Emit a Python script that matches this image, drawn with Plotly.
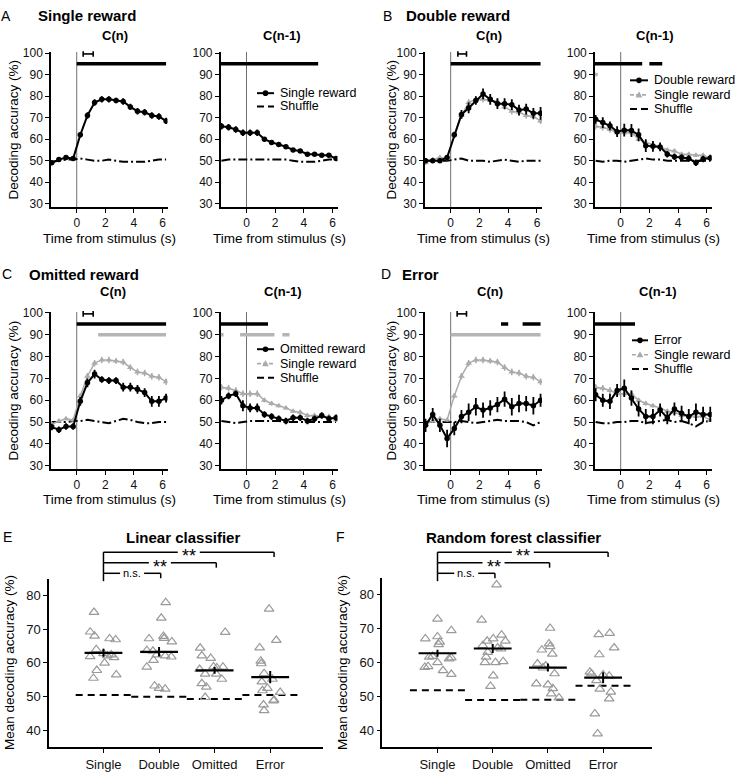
import plotly.graph_objects as go

W, H = 735, 776
FONT = "Liberation Sans, Arial, Helvetica, sans-serif"

# ---------------- data: time courses ----------------
times = [-1.75, -1.25, -0.75, -0.25, 0.25, 0.75, 1.25, 1.75, 2.25, 2.75,
         3.25, 3.75, 4.25, 4.75, 5.25, 5.75, 6.25]

single_cn = [49.0, 50.5, 51.5, 51.0, 62.0, 71.0, 77.0, 78.5, 78.5, 78.0, 77.5, 75.0, 73.0, 72.5, 71.0, 70.5, 68.5]
single_cn_err = [1.0, 0.8, 0.8, 0.8, 1.2, 1.5, 1.5, 1.5, 1.5, 1.3, 1.5, 1.5, 1.5, 1.5, 1.5, 1.5, 1.5]
single_cn1 = [66.0, 65.5, 64.5, 63.0, 63.0, 63.0, 60.0, 58.5, 57.5, 56.5, 55.0, 54.5, 53.0, 53.0, 52.5, 52.5, 51.0]
single_cn1_err = [1.5, 1.5, 1.5, 1.5, 1.5, 1.5, 1.0, 1.0, 0.8, 0.8, 0.8, 0.8, 0.8, 0.8, 0.8, 0.8, 0.8]

double_cn = [50.0, 50.0, 50.0, 51.5, 62.0, 71.5, 74.5, 78.0, 81.0, 78.5, 76.5, 76.5, 76.0, 73.5, 74.0, 72.0, 72.0]
double_cn_err = [1.0, 1.0, 1.0, 1.0, 1.5, 2.0, 2.5, 2.0, 2.5, 2.5, 2.5, 2.5, 2.5, 2.5, 2.5, 2.5, 3.0]
double_cn1 = [69.2, 67.7, 66.2, 63.5, 64.2, 64.0, 62.0, 57.0, 56.7, 56.4, 53.0, 51.8, 51.5, 51.0, 49.0, 50.8, 51.3]
double_cn1_err = [2.0, 2.5, 2.0, 2.5, 3.0, 3.0, 3.0, 3.0, 2.5, 2.0, 1.5, 1.5, 1.5, 1.5, 1.5, 1.5, 1.5]

omitted_cn = [47.7, 46.5, 48.0, 48.0, 59.5, 68.0, 72.0, 69.5, 69.0, 69.0, 66.0, 66.0, 65.0, 63.5, 59.5, 59.5, 61.0]
omitted_cn_err = [1.5, 1.5, 1.5, 1.5, 2.0, 2.0, 2.0, 1.5, 1.5, 1.5, 2.0, 2.0, 2.0, 2.0, 2.5, 2.5, 2.0]
omitted_cn1 = [60.0, 62.0, 63.0, 57.5, 56.5, 56.5, 53.5, 52.5, 51.5, 50.5, 52.0, 52.0, 50.5, 51.5, 53.0, 51.5, 52.0]
omitted_cn1_err = [2.0, 1.5, 1.5, 2.5, 2.0, 2.0, 1.5, 1.5, 1.5, 1.5, 1.5, 1.5, 1.5, 1.5, 1.5, 1.5, 1.5]

error_cn = [48.5, 53.5, 48.5, 42.5, 47.0, 52.5, 54.5, 57.0, 55.5, 56.5, 58.0, 60.5, 57.0, 58.5, 58.5, 57.5, 60.0]
error_cn_err = [3.0, 3.0, 3.0, 4.0, 3.0, 3.0, 4.0, 4.0, 3.5, 3.5, 3.5, 3.5, 4.0, 4.0, 3.5, 4.0, 3.0]
error_cn1 = [62.5, 60.0, 59.5, 64.5, 65.5, 61.0, 56.0, 52.5, 52.5, 55.5, 52.0, 56.0, 54.0, 52.5, 54.5, 53.5, 53.5]
error_cn1_err = [3.0, 3.0, 3.5, 3.0, 4.0, 3.5, 3.5, 3.5, 3.5, 3.0, 3.0, 3.0, 3.5, 3.5, 4.0, 3.5, 3.5]

shuf_A_cn = [49.5, 50.0, 50.5, 50.5, 51.0, 50.5, 50.0, 50.0, 50.5, 50.0, 49.5, 49.5, 49.5, 49.5, 50.0, 50.5, 50.5]
shuf_A_cn1 = [50.0, 50.5, 50.5, 50.5, 50.5, 50.5, 50.5, 50.5, 50.8, 50.5, 50.0, 49.5, 49.5, 49.5, 50.0, 50.5, 50.5]
shuf_B_cn = [50.0, 50.0, 50.0, 50.0, 50.5, 51.0, 50.0, 50.0, 50.0, 49.5, 50.0, 50.5, 50.0, 49.5, 50.0, 50.0, 50.0]
shuf_B_cn1 = [50.0, 49.5, 50.0, 50.0, 49.5, 50.0, 50.5, 51.0, 50.5, 50.5, 50.0, 50.0, 50.0, 50.0, 50.0, 50.0, 50.0]
shuf_C_cn = [50.0, 50.0, 50.0, 50.5, 50.5, 51.0, 50.5, 50.0, 49.5, 50.5, 51.5, 51.0, 50.0, 49.5, 49.5, 50.0, 50.0]
shuf_C_cn1 = [50.5, 50.0, 49.5, 50.0, 50.5, 50.5, 50.5, 50.5, 50.5, 50.0, 50.0, 50.0, 50.0, 50.0, 50.0, 50.0, 50.0]
shuf_D_cn = [50.0, 50.0, 50.0, 50.0, 50.0, 50.5, 50.0, 49.5, 50.0, 50.5, 51.0, 50.5, 50.5, 50.5, 50.0, 48.5, 50.0]
shuf_D_cn1 = [50.0, 49.5, 49.5, 50.0, 50.0, 50.5, 50.5, 49.5, 50.0, 50.5, 51.0, 50.0, 50.5, 49.5, 48.0, 50.0, 50.5]

# significance segments (start, end) at the black (95 %) and gray (90 %) levels
sig_black_A_cn = [(0.0, 6.25)]
sig_black_A_cn1 = [(-1.8, 5.0)]
sig_black_B_cn = [(0.0, 6.25)]
sig_black_B_cn1 = [(-1.8, 1.5), (2.0, 2.9)]
sig_gray_B_cn1 = [(-1.8, -1.6)]
sig_black_C_cn = [(0.0, 6.25)]
sig_gray_C_cn = [(1.5, 6.25)]
sig_black_C_cn1 = [(-1.8, 1.5)]
sig_gray_C_cn1 = [(-1.8, -1.6), (-0.45, 1.95), (2.5, 3.0)]
sig_black_D_cn = [(3.5, 4.0), (5.0, 6.25)]
sig_gray_D_cn = [(0.0, 6.25)]
sig_black_D_cn1 = [(-1.8, 1.0)]
sig_levels = [95, 90]

# latency interval markers (|-| near top) in the C(n) panels
latency_A = [0.45, 1.15]
latency_B = [0.5, 1.1]
latency_C = [0.45, 1.15]
latency_D = [0.45, 1.1]
latency_level = 99.6

# ---------------- data: mean decoding accuracy ----------------
categories = ["Single", "Double", "Omitted", "Error"]

single_lin = [75.0, 69.2, 68.0, 64.0, 67.2, 66.9, 61.9, 57.8, 55.5, 60.0, 62.4, 61.6, 62.1, 56.5, 62.8]
single_lin_off = [-0.17, -0.24, -0.16, -0.13, 0.11, 0.22, -0.24, -0.12, -0.18, 0.02, 0.14, 0.19, 0.07, 0.23, 0.0]
double_lin = [77.9, 73.3, 67.2, 67.9, 67.3, 66.3, 63.7, 60.8, 58.8, 62.4, 62.1, 61.8, 53.2, 52.5, 52.3, 63.5]
double_lin_off = [0.12, 0.04, -0.18, 0.08, 0.09, 0.23, -0.22, -0.10, -0.22, -0.04, 0.11, 0.22, -0.08, 0.0, 0.11, -0.11]
omitted_lin = [69.1, 64.4, 62.1, 61.4, 58.1, 56.7, 58.9, 58.8, 56.7, 55.2, 53.9, 52.9, 49.8, 58.6]
omitted_lin_off = [0.19, -0.26, -0.23, -0.07, -0.27, -0.17, -0.02, 0.15, 0.03, 0.13, -0.23, -0.15, -0.17, 0.04]
error_lin = [76.0, 66.7, 64.5, 60.6, 59.8, 56.9, 55.2, 54.4, 52.5, 51.8, 51.3, 49.0, 48.8, 47.6, 45.9]
error_lin_off = [-0.02, 0.11, -0.19, -0.17, -0.16, -0.11, 0.04, -0.15, -0.05, -0.14, 0.18, 0.07, 0.06, -0.12, -0.11]
mean_lin = [63.0, 63.3, 57.8, 55.8]
sem_lin = [1.2, 1.4, 1.0, 1.8]
shuffle_lin = [50.5, 50.0, 49.3, 50.5]

single_rf = [72.8, 69.4, 67.0, 67.6, 65.3, 61.6, 61.8, 60.0, 61.4, 61.1, 58.6, 58.8, 57.6, 56.5, 66.0]
single_rf_off = [0.0, 0.25, -0.22, 0.0, 0.02, -0.15, -0.09, 0.0, 0.25, 0.21, -0.23, -0.17, 0.1, 0.25, 0.04]
double_rf = [82.9, 72.5, 68.1, 66.3, 67.0, 66.3, 65.0, 64.3, 64.0, 63.0, 61.6, 60.0, 60.0, 60.3, 56.1, 53.0]
double_rf_off = [0.07, -0.2, 0.16, 0.23, 0.01, -0.1, -0.18, 0.09, 0.15, -0.09, -0.12, -0.14, 0.05, 0.19, 0.01, -0.04]
omitted_rf = [70.1, 65.5, 64.7, 63.7, 62.5, 59.6, 58.4, 59.0, 56.7, 53.7, 53.4, 52.3, 50.8, 49.6]
omitted_rf_off = [0.04, 0.02, 0.04, -0.11, 0.08, -0.19, -0.09, -0.04, 0.12, -0.21, 0.0, 0.09, 0.06, 0.2]
error_rf = [68.6, 68.2, 64.3, 62.3, 57.2, 56.7, 56.4, 54.7, 52.2, 51.3, 49.3, 44.9, 39.0, 56.0]
error_rf_off = [0.12, -0.08, 0.2, -0.07, -0.24, -0.21, 0.0, -0.12, -0.06, 0.14, 0.11, -0.15, -0.1, 0.11]
mean_rf = [62.7, 64.1, 58.5, 55.5]
sem_rf = [1.0, 1.3, 1.2, 1.6]
shuffle_rf = [51.8, 48.9, 49.0, 53.1]

# comparisons: (from category, to category, label)
comparisons = [(0, 3, "**"), (0, 2, "**"), (0, 1, "n.s.")]

# ---------------- layout helpers ----------------
def px(x):
    return x / W


def py(y):
    return 1 - y / H


def aid(k):
    return "" if k == 1 else str(k)


fig = go.Figure()
shapes = []
annotations = []

BLACK = "black"
GRAY = "#ababab"
TRI = "#9a9a9a"
SHUF_DASH = "9px,3px,2px,3px"

T_RANGE = [-1.8, 6.35]
Y_RANGE = [28.5, 100.5]


def text(x, y, s, size=13, bold=False, xanchor="center", yanchor="middle",
         angle=0, yshift=0, color="black"):
    annotations.append(dict(
        x=px(x), y=py(y), xref="paper", yref="paper",
        text=f"<b>{s}</b>" if bold else s, showarrow=False,
        font=dict(family=FONT, size=size, color=color),
        xanchor=xanchor, yanchor=yanchor, textangle=angle,
        borderpad=0, yshift=yshift))


axis_common = dict(showline=True, linecolor="black", linewidth=1.5,
                   ticks="outside", ticklen=4, tickwidth=1.3, tickcolor="black",
                   showgrid=False, zeroline=False,
                   tickfont=dict(family=FONT, size=12, color="#111"))


def time_panel(k, box, black, black_err, shuffle, gray=None, gray_err=None,
               sig_black=(), sig_gray=(), latency=None):
    x0, x1, y0, y1 = box
    xa, ya = "x" + aid(k), "y" + aid(k)
    fig.update_layout(**{
        "xaxis" + aid(k): dict(axis_common, domain=[px(x0), px(x1)], range=T_RANGE,
                               tickvals=[0, 2, 4, 6], anchor=ya),
        "yaxis" + aid(k): dict(axis_common, domain=[py(y1), py(y0)], range=Y_RANGE,
                               tickvals=[30, 40, 50, 60, 70, 80, 90, 100], anchor=xa),
    })
    shapes.append(dict(type="line", xref=xa, yref=ya + " domain", x0=0, x1=0,
                       y0=0, y1=1, line=dict(color="#707070", width=1), layer="below"))
    fig.add_trace(go.Scatter(x=times, y=shuffle, mode="lines", xaxis=xa, yaxis=ya,
                             line=dict(color=BLACK, width=2, dash=SHUF_DASH),
                             showlegend=False, hoverinfo="skip"))
    if gray is not None:
        fig.add_trace(go.Scatter(x=times, y=gray, mode="lines+markers", xaxis=xa, yaxis=ya,
                                 line=dict(color=GRAY, width=1.5),
                                 marker=dict(symbol="triangle-up", size=6, color=GRAY),
                                 error_y=dict(type="data", array=gray_err, color=GRAY,
                                              thickness=1.5, width=0),
                                 showlegend=False))
    fig.add_trace(go.Scatter(x=times, y=black, mode="lines+markers", xaxis=xa, yaxis=ya,
                             line=dict(color=BLACK, width=2),
                             marker=dict(symbol="circle", size=5.5, color=BLACK),
                             error_y=dict(type="data", array=black_err, color=BLACK,
                                          thickness=1.8, width=0),
                             showlegend=False))
    for a, b in sig_black:
        shapes.append(dict(type="line", xref=xa, yref=ya, x0=a, x1=b,
                           y0=sig_levels[0], y1=sig_levels[0],
                           line=dict(color=BLACK, width=3.5)))
    for a, b in sig_gray:
        shapes.append(dict(type="line", xref=xa, yref=ya, x0=a, x1=b,
                           y0=sig_levels[1], y1=sig_levels[1],
                           line=dict(color="#b5b5b5", width=3.5)))
    if latency is not None:
        def xd(t):
            return (t - T_RANGE[0]) / (T_RANGE[1] - T_RANGE[0])

        def yd(v):
            return (v - Y_RANGE[0]) / (Y_RANGE[1] - Y_RANGE[0])
        a, b = latency
        ref = dict(xref=xa + " domain", yref=ya + " domain")
        lw = dict(color=BLACK, width=1.6)
        shapes.append(dict(type="line", **ref, x0=xd(a), x1=xd(b), y0=yd(latency_level),
                           y1=yd(latency_level), line=lw))
        for t in (a, b):
            shapes.append(dict(type="line", **ref, x0=xd(t), x1=xd(t),
                               y0=yd(latency_level - 1.3), y1=yd(latency_level + 1.3), line=lw))


ROW1 = (46.6, 203.6)
ROW2 = (309.9, 469.0)
COLX = [(51.0, 167.5), (220.7, 337.5), (424.8, 542.0), (594.9, 711.7)]

time_panel(1, (*COLX[0], *ROW1), single_cn, single_cn_err, shuf_A_cn,
           sig_black=sig_black_A_cn, latency=latency_A)
time_panel(2, (*COLX[1], *ROW1), single_cn1, single_cn1_err, shuf_A_cn1,
           sig_black=sig_black_A_cn1)
time_panel(3, (*COLX[2], *ROW1), double_cn, double_cn_err, shuf_B_cn,
           gray=single_cn, gray_err=single_cn_err,
           sig_black=sig_black_B_cn, latency=latency_B)
time_panel(4, (*COLX[3], *ROW1), double_cn1, double_cn1_err, shuf_B_cn1,
           gray=single_cn1, gray_err=single_cn1_err,
           sig_black=sig_black_B_cn1, sig_gray=sig_gray_B_cn1)
time_panel(5, (*COLX[0], *ROW2), omitted_cn, omitted_cn_err, shuf_C_cn,
           gray=single_cn, gray_err=single_cn_err,
           sig_black=sig_black_C_cn, sig_gray=sig_gray_C_cn, latency=latency_C)
time_panel(6, (*COLX[1], *ROW2), omitted_cn1, omitted_cn1_err, shuf_C_cn1,
           gray=single_cn1, gray_err=single_cn1_err,
           sig_black=sig_black_C_cn1, sig_gray=sig_gray_C_cn1)
time_panel(7, (*COLX[2], *ROW2), error_cn, error_cn_err, shuf_D_cn,
           gray=single_cn, gray_err=single_cn_err,
           sig_black=sig_black_D_cn, sig_gray=sig_gray_D_cn, latency=latency_D)
time_panel(8, (*COLX[3], *ROW2), error_cn1, error_cn1_err, shuf_D_cn1,
           gray=single_cn1, gray_err=single_cn1_err,
           sig_black=sig_black_D_cn1)

# ---------------- summary panels ----------------
S_YRANGE = [35, 85]


def summary_panel(k, box, xrange, groups, offsets, means, sems, shuffles, brackets):
    x0, x1, y0, y1 = box
    xa, ya = "x" + aid(k), "y" + aid(k)
    fig.update_layout(**{
        "xaxis" + aid(k): dict(axis_common, domain=[px(x0), px(x1)], range=xrange,
                               tickvals=list(range(len(categories))), ticktext=categories,
                               tickfont=dict(family=FONT, size=13, color="#111"), anchor=ya),
        "yaxis" + aid(k): dict(axis_common, domain=[py(y1), py(y0)], range=S_YRANGE,
                               tickvals=[40, 50, 60, 70, 80],
                               tickfont=dict(family=FONT, size=13, color="#111"), anchor=xa),
    })
    sx, sy = [], []
    for i, v in enumerate(shuffles):
        sx += [i - 0.5, i + 0.5, None]
        sy += [v, v, None]
    fig.add_trace(go.Scatter(x=sx, y=sy, mode="lines", xaxis=xa, yaxis=ya,
                             line=dict(color=BLACK, width=2, dash="7px,5px"),
                             showlegend=False, hoverinfo="skip"))
    for i, (vals, offs) in enumerate(zip(groups, offsets)):
        fig.add_trace(go.Scatter(x=[i + o for o in offs], y=vals, mode="markers",
                                 xaxis=xa, yaxis=ya,
                                 marker=dict(symbol="triangle-up-open", size=8.5, color=TRI,
                                             line=dict(width=1.2, color=TRI)),
                                 showlegend=False))
    fig.add_trace(go.Scatter(x=list(range(len(categories))), y=means, mode="markers",
                             xaxis=xa, yaxis=ya,
                             marker=dict(symbol="line-ew", size=27,
                                         line=dict(width=2.2, color=BLACK)),
                             error_y=dict(type="data", array=sems, color=BLACK,
                                          thickness=2, width=0),
                             showlegend=False))

    def xd(c):
        return (c - xrange[0]) / (xrange[1] - xrange[0])
    levels, ends = brackets
    lw = dict(color=BLACK, width=1.5)
    width_px = x1 - x0
    for j, (a, b, lab) in enumerate(comparisons):
        lev = levels[j]
        nxt = levels[j + 1] if j + 1 < len(levels) else lev + 8
        xa_d, xb_d = xd(a), xd(b + ends[j])
        xm_d = (xa_d + xb_d) / 2
        gap = (22 if lab == "**" else 24) / width_px / 2
        ref = dict(xref=xa + " domain", yref="paper")
        shapes.append(dict(type="line", **ref, x0=xa_d, x1=xm_d - gap, y0=py(lev), y1=py(lev), line=lw))
        shapes.append(dict(type="line", **ref, x0=xm_d + gap, x1=xb_d, y0=py(lev), y1=py(lev), line=lw))
        shapes.append(dict(type="line", **ref, x0=xa_d, x1=xa_d, y0=py(lev), y1=py(nxt), line=lw))
        shapes.append(dict(type="line", **ref, x0=xb_d, x1=xb_d, y0=py(lev), y1=py(lev + 5), line=lw))
        xm = x0 + width_px * xm_d
        if lab == "**":
            text(xm, lev, lab, size=18, yshift=-4)
        else:
            text(xm, lev, lab, size=11)


BRACKET_LEVELS = [553.3, 564.0, 574.7]
summary_panel(9, (49.0, 323.0, 580.0, 751.0), [-0.98, 3.95],
              [single_lin, double_lin, omitted_lin, error_lin],
              [single_lin_off, double_lin_off, omitted_lin_off, error_lin_off],
              mean_lin, sem_lin, shuffle_lin, (BRACKET_LEVELS, [0.07, 0.03, 0.03]))
summary_panel(10, (382.3, 651.7, 579.0, 751.0), [-1.0, 3.88],
              [single_rf, double_rf, omitted_rf, error_rf],
              [single_rf_off, double_rf_off, omitted_rf_off, error_rf_off],
              mean_rf, sem_rf, shuffle_rf, (BRACKET_LEVELS, [0.09, 0.03, 0.04]))

# ---------------- legends (drawn by hand) ----------------
def legend_entry(lx0, lx1, tx, y, label, kind):
    yy = py(y)
    if kind == "black":
        shapes.append(dict(type="line", xref="paper", yref="paper", x0=px(lx0), x1=px(lx1),
                           y0=yy, y1=yy, line=dict(color=BLACK, width=2)))
        shapes.append(dict(type="circle", xref="paper", yref="paper", xsizemode="pixel",
                           ysizemode="pixel", xanchor=px((lx0 + lx1) / 2), yanchor=yy,
                           x0=-2.8, x1=2.8, y0=-2.8, y1=2.8, fillcolor=BLACK,
                           line=dict(width=0)))
    elif kind == "gray":
        shapes.append(dict(type="line", xref="paper", yref="paper", x0=px(lx0), x1=px(lx1),
                           y0=yy, y1=yy, line=dict(color=GRAY, width=1.6, dash="4px,2px")))
        shapes.append(dict(type="path", xref="paper", yref="paper", xsizemode="pixel",
                           ysizemode="pixel", xanchor=px((lx0 + lx1) / 2), yanchor=yy,
                           path="M -3.3 -2.6 L 3.3 -2.6 L 0 3.6 Z", fillcolor=GRAY,
                           line=dict(width=0)))
    else:
        shapes.append(dict(type="line", xref="paper", yref="paper", x0=px(lx0), x1=px(lx1),
                           y0=yy, y1=yy, line=dict(color=BLACK, width=2, dash="7px,4px")))
    text(tx, y, label, size=12.5, xanchor="left")


legend_entry(257, 274, 278.5, 88.3, "Single reward", "black")
legend_entry(257, 274, 278.5, 101.7, "Shuffle", "shuffle")

legend_entry(630, 648, 652.5, 75.3, "Double reward", "black")
legend_entry(630, 648, 652.5, 90.0, "Single reward", "gray")
legend_entry(630, 648, 652.5, 104.3, "Shuffle", "shuffle")

legend_entry(257, 274, 278.5, 347.7, "Omitted reward", "black")
legend_entry(257, 274, 278.5, 362.3, "Single reward", "gray")
legend_entry(257, 274, 278.5, 376.7, "Shuffle", "shuffle")

legend_entry(632, 648, 652.5, 338.7, "Error", "black")
legend_entry(632, 648, 652.5, 353.3, "Single reward", "gray")
legend_entry(632, 648, 652.5, 367.7, "Shuffle", "shuffle")

# ---------------- titles and labels ----------------
text(6, 10, "A", size=14)
text(37, 10, "Single reward", size=15, bold=True, xanchor="left")
text(387, 10, "B", size=14)
text(405, 10, "Double reward", size=15, bold=True, xanchor="left")
text(7, 271.7, "C", size=14)
text(28, 271.7, "Omitted reward", size=15, bold=True, xanchor="left")
text(386, 271.7, "D", size=14)
text(401, 271.7, "Error", size=15, bold=True, xanchor="left")

text(115, 30, "C(n)", size=13, bold=True)
text(282, 30, "C(n-1)", size=13, bold=True)
text(489, 30, "C(n)", size=13, bold=True)
text(655, 30, "C(n-1)", size=13, bold=True)
text(112.5, 289.3, "C(n)", size=13, bold=True)
text(282.5, 289.3, "C(n-1)", size=13, bold=True)
text(489.7, 289.3, "C(n)", size=13, bold=True)
text(658, 289.3, "C(n-1)", size=13, bold=True)

for (cx0, cx1) in COLX:
    text((cx0 + cx1) / 2, 236, "Time from stimulus (s)", size=13.5)
    text((cx0 + cx1) / 2, 500, "Time from stimulus (s)", size=13.5)

for (lx, cy) in [(13, (ROW1[0] + ROW1[1]) / 2), (391, (ROW1[0] + ROW1[1]) / 2),
                 (13, (ROW2[0] + ROW2[1]) / 2), (391, (ROW2[0] + ROW2[1]) / 2)]:
    text(lx, cy, "Decoding accuracy (%)", size=13.5, angle=-90)

text(8, 538, "E", size=14)
text(340, 538, "F", size=14)
text(183, 538, "Linear classifier", size=15, bold=True)
text(513, 538, "Random forest classifier", size=15, bold=True)
text(10, 665.5, "Mean decoding accuracy (%)", size=13.5, angle=-90)
text(343, 665.5, "Mean decoding accuracy (%)", size=13.5, angle=-90)

fig.update_layout(
    width=W, height=H,
    margin=dict(l=0, r=0, t=0, b=0),
    paper_bgcolor="white", plot_bgcolor="white",
    font=dict(family=FONT, size=12, color="black"),
    showlegend=False,
    shapes=shapes, annotations=annotations,
)

# remove the browser's default 8px body margin so the 735x776 figure fills the window exactly
fig.write_html("out.html",
               config={"displayModeBar": False},
               post_script="document.body.style.margin='0px';"
                           "document.body.style.overflow='hidden';")
